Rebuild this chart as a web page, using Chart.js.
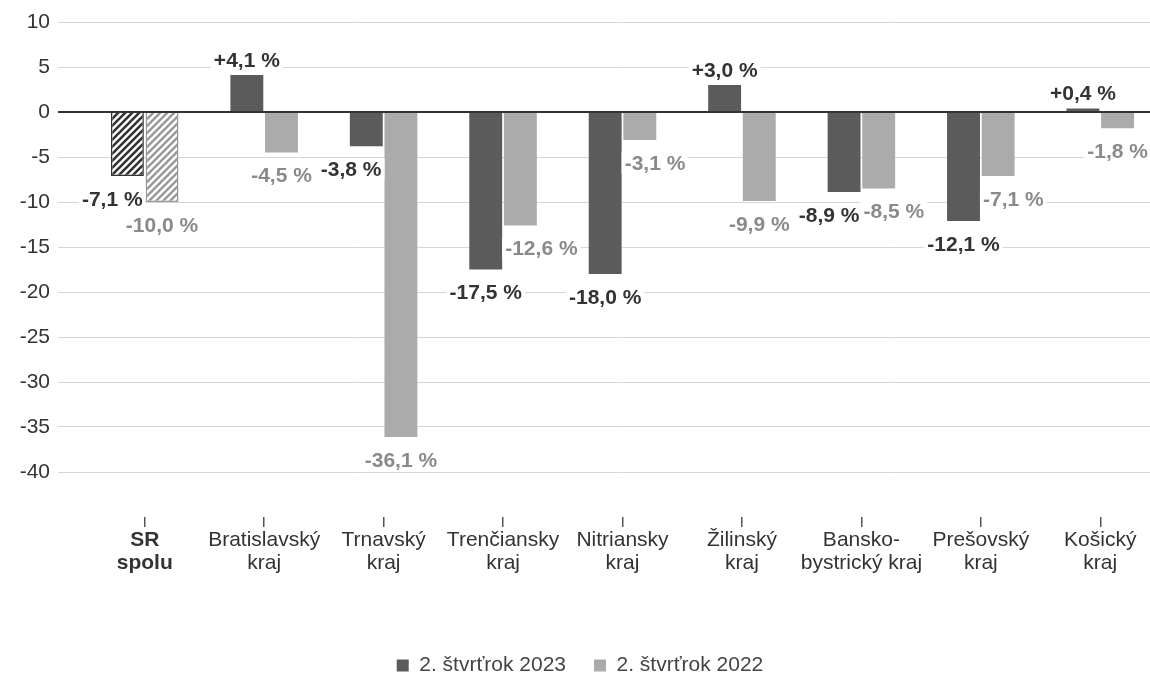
<!DOCTYPE html>
<html lang="sk">
<head>
<meta charset="utf-8">
<script src="https://cdn.jsdelivr.net/npm/chart.js@4.4.0/dist/chart.umd.min.js"></script>
<style>
  html, body { margin: 0; padding: 0; background: #fff; overflow: hidden; }
  #wrap { position: relative; width: 1160px; height: 686px; }
</style>
</head>
<body>
<div id="wrap"><canvas id="chart"></canvas></div>
<script>
// Data
const categories = [
  ["SR", "spolu"],
  ["Bratislavský", "kraj"],
  ["Trnavský", "kraj"],
  ["Trenčiansky", "kraj"],
  ["Nitriansky", "kraj"],
  ["Žilinský", "kraj"],
  ["Bansko-", "bystrický kraj"],
  ["Prešovský", "kraj"],
  ["Košický", "kraj"]
];
const seriesLabels = ["2. štvrťrok 2023", "2. štvrťrok 2022"];
const values2023 = [-7.1, 4.1, -3.8, -17.5, -18.0, 3.0, -8.9, -12.1, 0.4];
const values2022 = [-10.0, -4.5, -36.1, -12.6, -3.1, -9.9, -8.5, -7.1, -1.8];
const yTicks = [10, 5, 0, -5, -10, -15, -20, -25, -30, -35, -40];

const FONT = '"Liberation Sans", Arial, sans-serif';
const DARK = "#5b5b5b";
const LIGHT = "#ababab";

// Hatch pattern for the "SR spolu" bars
function hatch(color, lw) {
  const c = document.createElement("canvas");
  c.width = 7; c.height = 7;
  const g = c.getContext("2d");
  g.fillStyle = "#fff";
  g.fillRect(0, 0, 7, 7);
  g.strokeStyle = color;
  g.lineWidth = lw;
  g.beginPath();
  g.moveTo(-1, 8); g.lineTo(8, -1);
  g.moveTo(-4, 4); g.lineTo(4, -4);
  g.moveTo(3, 11); g.lineTo(11, 3);
  g.stroke();
  return g.createPattern(c, "repeat");
}

const fill2023 = values2023.map((v, i) => i === 0 ? hatch("#333", 2.6) : DARK);
const fill2022 = values2022.map((v, i) => i === 0 ? hatch("#999", 2.4) : LIGHT);

function fmt(v) {
  const s = Math.abs(v).toFixed(1).replace(".", ",") + " %";
  return (v > 0 ? "+" : "-") + s;
}

// Value labels under/over bars, pushed aside to avoid the neighbour bar
const valueLabels = {
  id: "valueLabels",
  afterDatasetsDraw(chart) {
    const ctx = chart.ctx;
    const area = chart.chartArea;
    const y0 = chart.scales.y.getPixelForValue(0);

    // zero line on top of bars
    ctx.save();
    ctx.strokeStyle = "#333";
    ctx.lineWidth = 2;
    ctx.beginPath();
    ctx.moveTo(area.left - 27, y0);
    ctx.lineTo(area.right, y0);
    ctx.stroke();

    ctx.font = "bold 21px " + FONT;
    ctx.textAlign = "center";
    ctx.textBaseline = "middle";
    const m0 = chart.getDatasetMeta(0).data;
    const m1 = chart.getDatasetMeta(1).data;
    const gap = 3;

    categories.forEach((c, i) => {
      const a = m0[i], b = m1[i];
      const va = values2023[i], vb = values2022[i];
      const wa = ctx.measureText(fmt(va)).width;
      const wb = ctx.measureText(fmt(vb)).width;
      let xa = a.x, xb = b.x;
      const ya = va < 0 ? a.y + 23 : a.y - 15;
      const yb = vb < 0 ? b.y + 23 : b.y - 15;
      // 2023 label under a shorter bar next to deeper 2022 bar
      if (va < 0 && vb < va) xa = Math.min(xa, b.x - b.width / 2 - gap - wa / 2);
      // 2022 label under a shorter bar next to deeper 2023 bar
      if (vb < 0 && va < vb) xb = Math.max(xb, a.x + a.width / 2 + gap + wb / 2);
      // labels at similar heights must not overlap
      if (Math.abs(ya - yb) < 22) {
        const overlap = (xa + wa / 2 + 4) - (xb - wb / 2);
        if (overlap > 0) xa -= overlap;
      }
      [[xa, ya, va, wa, "#333"], [xb, yb, vb, wb, "#8a8a8a"]].forEach(([x, y, v, w, col]) => {
        ctx.fillStyle = "#fff";
        ctx.fillRect(x - w / 2 - 3, y - 11, w + 6, 22);
        ctx.fillStyle = col;
        ctx.fillText(fmt(v), x, y + 1);
      });
    });
    ctx.restore();
  }
};

new Chart(document.getElementById("chart"), {
  type: "bar",
  data: {
    labels: categories,
    datasets: [
      {
        label: seriesLabels[0],
        data: values2023,
        backgroundColor: fill2023,
        borderColor: values2023.map((v, i) => i === 0 ? "#333" : DARK),
        borderWidth: values2023.map((v, i) => i === 0 ? 1.5 : 0),
        barPercentage: 0.95,
        categoryPercentage: 0.58
      },
      {
        label: seriesLabels[1],
        data: values2022,
        backgroundColor: fill2022,
        borderColor: values2022.map((v, i) => i === 0 ? "#999" : LIGHT),
        borderWidth: values2022.map((v, i) => i === 0 ? 1.5 : 0),
        barPercentage: 0.95,
        categoryPercentage: 0.58
      }
    ]
  },
  options: {
    responsive: true,
    maintainAspectRatio: false,
    animation: false,
    layout: { padding: { top: 22, right: 0, bottom: 0, left: 0 } },
    plugins: {
      tooltip: { enabled: false },
      legend: {
        position: "bottom",
        labels: {
          boxWidth: 12,
          boxHeight: 12,
          padding: 28,
          color: "#444",
          font: { size: 21, family: FONT },
          generateLabels(chart) {
            const items = Chart.defaults.plugins.legend.labels.generateLabels(chart);
            items.forEach((it, i) => {
              it.fillStyle = i === 0 ? DARK : LIGHT;
              it.strokeStyle = i === 0 ? DARK : LIGHT;
              it.lineWidth = 0;
            });
            return items;
          }
        }
      }
    },
    scales: {
      x: {
        grid: {
          drawOnChartArea: false,
          drawTicks: true,
          tickLength: 10,
          offset: false,
          color: "#555",
          lineWidth: 1.5
        },
        border: { display: false },
        ticks: {
          color: "#333",
          padding: 2,
          maxRotation: 0,
          autoSkip: false,
          font: (c) => ({ size: 21, family: FONT, weight: c.index === 0 ? "bold" : "normal", lineHeight: 1.1 })
        },
        afterFit(s) { s.height = 110; }
      },
      y: {
        min: -45,
        max: 10,
        afterBuildTicks(s) { s.ticks = yTicks.concat([-45]).map(v => ({ value: v })); },
        afterFit(s) { s.width = 85; },
        ticks: {
          color: "#333",
          padding: 8,
          font: { size: 21, family: FONT },
          callback: (v) => v === -45 ? "" : v
        },
        grid: {
          tickLength: 27,
          color: (c) => c.tick.value === 0 ? "#333" : (c.tick.value === -45 ? "rgba(0,0,0,0)" : "#d6d6d6"),
          lineWidth: (c) => c.tick.value === 0 ? 2 : 1
        },
        border: { display: false }
      }
    }
  },
  plugins: [valueLabels]
});
</script>
</body>
</html>
